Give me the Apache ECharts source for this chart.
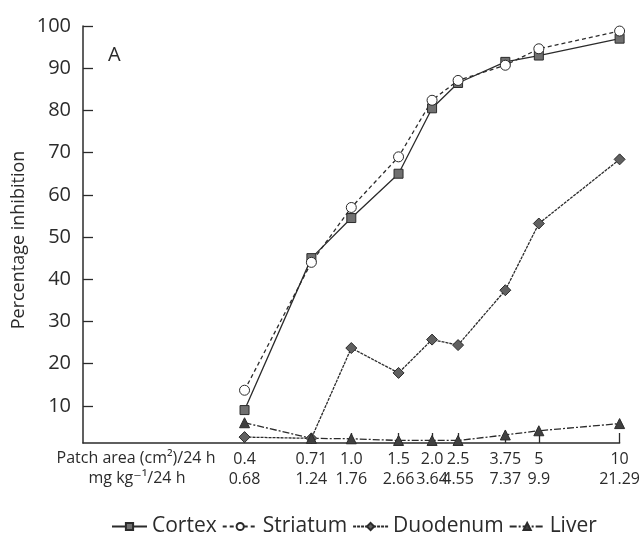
<!DOCTYPE html>
<html>
<head>
<meta charset="utf-8">
<script src="https://cdn.jsdelivr.net/npm/echarts@6/dist/echarts.min.js"></script>
<style>
  html, body { margin: 0; padding: 0; background: #fff; }
  #chart { width: 643px; height: 536px; }
</style>
</head>
<body>
<div id="chart"></div>
<script>
// x positions (patch area, cm2/24 h) and second label row (mg kg-1/24 h)
const patchArea = [0.4, 0.71, 1.0, 1.5, 2.0, 2.5, 3.75, 5, 10];
const patchLabels = ['0.4', '0.71', '1.0', '1.5', '2.0', '2.5', '3.75', '5', '10'];
const doseLabels = ['0.68', '1.24', '1.76', '2.66', '3.64', '4.55', '7.37', '9.9', '21.29'];

// percentage inhibition
const cortex = [9, 45, 54.5, 65, 80.5, 86.5, 91.5, 93, 97];
const striatum = [13.7, 44, 57, 69, 82.4, 87.1, 90.7, 94.6, 98.8];
const duodenum = [2.6, 2.3, 23.7, 17.8, 25.7, 24.4, 37.4, 53.2, 68.4];
const liver = [6, 2.3, 2.2, 1.8, 1.8, 1.8, 3.1, 4.1, 5.8];

const yTicks = [10, 20, 30, 40, 50, 60, 70, 80, 90, 100];

const font = '"Open Sans", "DejaVu Sans", sans-serif';
const ink = '#2b2b2b';

function pairs(vals) {
  return patchArea.map((x, i) => [x, vals[i]]);
}

function lineSeries(name, vals, symbol, fill, dash, size) {
  return {
    name: name,
    type: 'line',
    data: pairs(vals),
    symbol: symbol,
    symbolSize: size,
    showAllSymbol: true,
    lineStyle: { color: ink, width: 1.3, type: dash },
    itemStyle: { color: fill, borderColor: ink, borderWidth: 1 },
    emphasis: { disabled: true },
    z: 3
  };
}

const chart = echarts.init(document.getElementById('chart'));
chart.setOption({
  animation: false,
  backgroundColor: '#fff',
  textStyle: { fontFamily: font },
  grid: { left: 83, right: 23, top: 26, bottom: 93 },
  xAxis: {
    type: 'log',
    logBase: 10,
    min: 0.1,
    max: 10,
    axisLine: { lineStyle: { color: ink, width: 1.5 } },
    axisTick: { inside: true, length: 10, lineStyle: { color: ink, width: 1.3 }, customValues: patchArea },
    axisLabel: {
      customValues: patchArea,
      color: ink,
      fontSize: 16,
      fontFamily: font,
      lineHeight: 20,
      margin: 6,
      formatter: function (v) {
        const i = patchArea.findIndex(p => Math.abs(p - v) < 1e-6);
        return i < 0 ? '' : patchLabels[i] + '\n' + doseLabels[i];
      }
    },
    splitLine: { show: false },
    minorTick: { show: false }
  },
  yAxis: {
    type: 'value',
    min: 1.2,
    max: 100,
    axisLine: { show: true, lineStyle: { color: ink, width: 1.5 } },
    axisTick: { show: true, inside: true, length: 10, lineStyle: { color: ink, width: 1.3 }, customValues: yTicks },
    axisLabel: { customValues: yTicks, color: ink, fontSize: 20, fontFamily: font, margin: 12 },
    splitLine: { show: false }
  },
  legend: {
    top: 511,
    left: 106,
    itemWidth: 35,
    itemHeight: 9,
    itemGap: 5,
    textStyle: { color: ink, fontSize: 21, fontFamily: font },
    data: ['Cortex', 'Striatum', 'Duodenum', 'Liver']
  },
  graphic: [
    {
      type: 'text', left: 108, top: 45,
      style: { text: 'A', fontSize: 20, fontFamily: font, fill: ink }
    },
    {
      type: 'text', x: 19, y: 240, rotation: Math.PI / 2,
      style: { text: 'Percentage inhibition', fontSize: 18, fontFamily: font, fill: ink, align: 'center', verticalAlign: 'middle' }
    },
    {
      type: 'text', x: 136, y: 458,
      style: { text: 'Patch area (cm\u00b2)/24 h', fontSize: 16, fontFamily: font, fill: ink, align: 'center', verticalAlign: 'middle' }
    },
    {
      type: 'text', x: 137, y: 478,
      style: { text: 'mg kg\u207b\u00b9/24 h', fontSize: 16, fontFamily: font, fill: ink, align: 'center', verticalAlign: 'middle' }
    }
  ],
  series: [
    lineSeries('Cortex', cortex, 'rect', '#707070', 'solid', 9),
    lineSeries('Striatum', striatum, 'circle', '#ffffff', [4, 3], 10),
    lineSeries('Duodenum', duodenum, 'diamond', '#606060', [3, 1], 11),
    lineSeries('Liver', liver, 'triangle', '#404040', [7, 2, 2, 2], 10)
  ]
});
</script>
</body>
</html>
